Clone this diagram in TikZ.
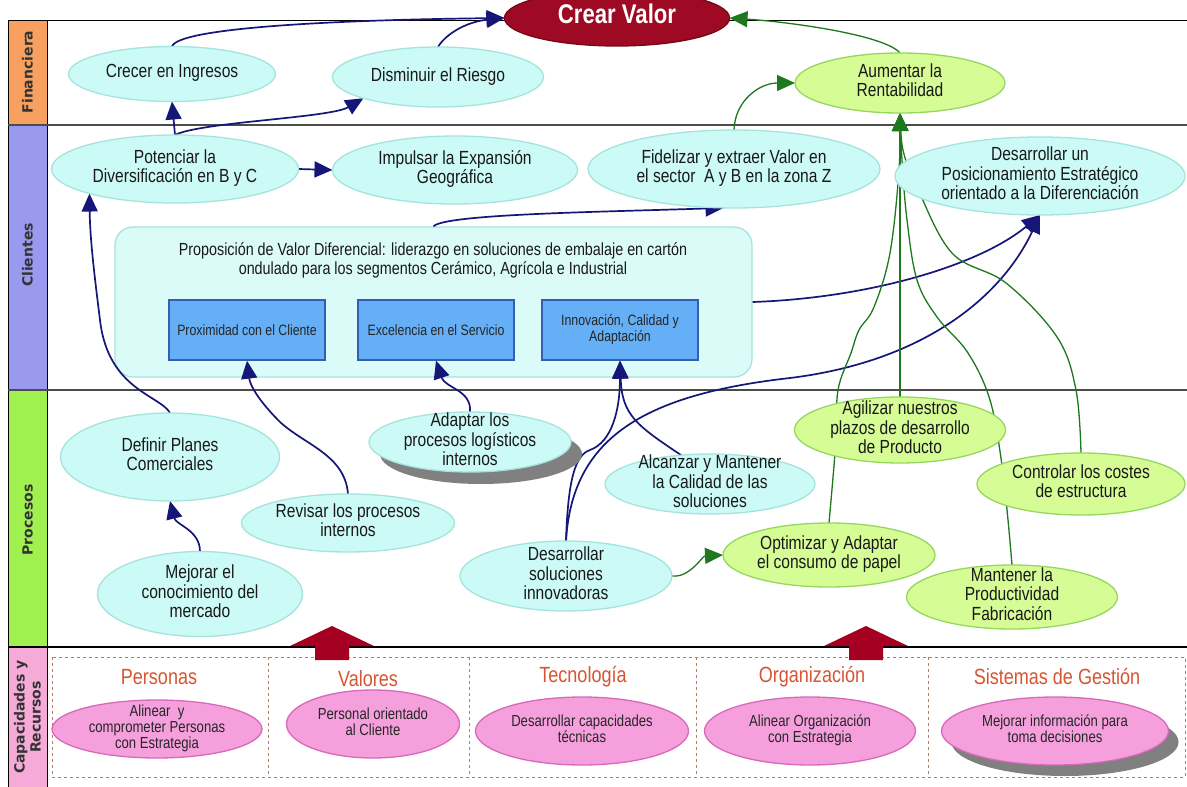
\documentclass[tikz,border=0pt]{standalone}
\usepackage{fontspec}
\setmainfont{Liberation Sans}[FakeStretch=0.82]
\newfontfamily\lblfont{DejaVu Sans}
\usetikzlibrary{shapes.geometric,arrows.meta}
\pgfdeclarelayer{back}
\pgfdeclarelayer{conn}
\pgfsetlayers{back,conn,main}
\definecolor{cyanf}{RGB}{204,250,246}
\definecolor{cyand}{RGB}{165,228,220}
\definecolor{greenf}{RGB}{214,252,150}
\definecolor{greend}{RGB}{150,215,95}
\definecolor{pinkf}{RGB}{245,160,220}
\definecolor{pinkd}{RGB}{215,105,185}
\definecolor{rectf}{RGB}{100,175,245}
\definecolor{rectd}{RGB}{50,95,180}
\definecolor{navyc}{RGB}{22,22,120}
\definecolor{greenc}{RGB}{30,120,30}
\definecolor{crearf}{RGB}{158,10,35}
\definecolor{titlec}{RGB}{215,85,50}
\definecolor{finc}{RGB}{247,160,95}
\definecolor{clic}{RGB}{153,153,240}
\definecolor{proc}{RGB}{160,240,80}
\definecolor{capc}{RGB}{245,170,215}
\definecolor{arrowred}{RGB}{165,0,33}
\definecolor{dashc}{RGB}{190,120,100}
\definecolor{shadowc}{RGB}{128,128,128}
\newcommand\ctxt[1]{\hbox to 0pt{\hss\vbox to 0pt{\vss\hbox{\begin{tabular}{@{}c@{}}#1\end{tabular}}\vss}\hss}}
\begin{document}
\begin{tikzpicture}[x=1pt,y=-1pt,
  wh/.style 2 args={minimum width=#1,minimum height=#2},
  el/.style={ellipse,inner sep=0pt,outer sep=0pt,line width=1.3pt},
  cy/.style={el,fill=cyanf,draw=cyand,text=black!90,font=\fontsize{19}{19}\selectfont},
  gr/.style={el,fill=greenf,draw=greend,text=black!90,font=\fontsize{19}{19}\selectfont},
  pk/.style={el,fill=pinkf,draw=pinkd,text=black!85,font=\fontsize{16}{15.5}\selectfont},
  sh/.style={el,fill=shadowc,draw=none},
  rbox/.style={rectangle,fill=rectf,draw=rectd,line width=1.3pt,inner sep=0pt,minimum width=156,minimum height=60,align=center,text=black!85,font=\fontsize{15}{16}\selectfont},
  ttl/.style={inner sep=0pt,text=titlec,font=\fontsize{22}{22}\selectfont},
  lbl/.style={inner sep=0pt,rotate=90,align=center,text=black!80,font=\lblfont\bfseries\fontsize{14}{16}\selectfont},
  barrow/.style={draw=navyc,line width=1.7pt,-{Triangle[length=18pt,width=16pt]}},
  garrow/.style={draw=greenc,line width=1.3pt,-{Triangle[length=18pt,width=16pt]}}
]
\useasboundingbox (0,0) rectangle (1187,787);
\clip (0,0) rectangle (1187,787);
\begin{pgfonlayer}{back}
  \fill[white] (0,0) rectangle (1187,787);
  \fill[finc] (8,20) rectangle (47,125);
  \fill[clic] (8,125) rectangle (47,390);
  \fill[proc] (8,390) rectangle (47,647);
  \fill[capc] (8,647) rectangle (47,787);
  \draw[black,line width=1pt] (8,20) -- (1187,20);
  \draw[black,line width=1pt] (8,20) -- (8,787);
  \draw[black,line width=1pt] (47,20) -- (47,787);
  \draw[black!70,line width=1.3pt] (8,125) -- (1187,125);
  \draw[black!70,line width=1.3pt] (8,390) -- (1187,390);
  \draw[black,line width=2.6pt] (8,647) -- (1187,647);
  \draw[dashc,dashed,line width=0.8pt] (52,657) rectangle (1185,777);
  \foreach \xx in {268,469,696,928} \draw[dashc,dashed,line width=0.8pt] (\xx,657) -- (\xx,777);
  \node[draw=cyand,fill=cyanf!70!white,rounded corners=18pt,line width=1.3pt,inner sep=0pt,minimum width=637,minimum height=150] (prop) at (433.5,302) {};
  \node[inner sep=0pt,align=center,text=black!90,font=\fontsize{17.5}{19}\selectfont] (proptext) at (433,260) {Proposición de Valor Diferencial: liderazgo en soluciones de embalaje en cartón\\ondulado para los segmentos Cerámico, Agrícola e Industrial};
\end{pgfonlayer}

% lane labels
\node[lbl] (lfin) at (27.5,72) {Financiera};
\node[lbl] (lcli) at (27.5,255) {Clientes};
\node[lbl] (lpro) at (27.5,520) {Procesos};
\node[lbl] (lcap) at (27.5,717) {Capacidades y\\Recursos};

% big red arrows
\fill[arrowred] (290,646) -- (332,626) -- (374,646) -- (349,646) -- (349,660) -- (315,660) -- (315,646) -- cycle;
\fill[arrowred] (824,646) -- (866,626) -- (908,646) -- (883,646) -- (883,660) -- (849,660) -- (849,646) -- cycle;

% Financiera
\node[el,fill=crearf,draw=crearf!75!black,wh={225}{56},text=white,font=\bfseries\fontsize{27}{27}\selectfont] (crear) at (617,18) {\ctxt{Crear Valor}};
\node[cy,wh={207}{55}] (crecer) at (172,74) {\ctxt{Crecer en Ingresos}};
\node[cy,wh={211}{60}] (dismin) at (438,77) {\ctxt{Disminuir el Riesgo}};
\node[gr,wh={210}{60}] (aument) at (900,83) {\ctxt{Aumentar la\\Rentabilidad}};

% Clientes
\node[cy,wh={247}{68}] (potenc) at (175,169) {\ctxt{Potenciar la\\Diversificación en B y C}};
\node[cy,wh={245}{68}] (impuls) at (455,170) {\ctxt{Impulsar la Expansión\\Geográfica}};
\node[cy,wh={292}{78}] (fidel) at (734,169) {\ctxt{Fidelizar y extraer Valor en\\el sector~ A y B en la zona Z}};
\node[cy,wh={290}{78}] (posic) at (1040,176) {\ctxt{Desarrollar un\\Posicionamiento Estratégico\\orientado a la Diferenciación}};
\node[rbox] (proxim) at (247,330) {Proximidad con el Cliente};
\node[rbox] (excel) at (436,330) {Excelencia en el Servicio};
\node[rbox] (innov) at (620,330) {Innovación, Calidad y\\Adaptación};

% Procesos
\node[cy,wh={219}{88}] (definir) at (170,457) {\ctxt{Definir Planes\\Comerciales}};
\node[cy,wh={213}{58}] (revisar) at (348,523) {\ctxt{Revisar los procesos\\internos}};
\node[cy,wh={205}{85}] (mejorar) at (200,594) {\ctxt{Mejorar el\\conocimiento del\\mercado}};
\node[sh,wh={202}{60}] (adaptsh) at (481,454) {};
\node[cy,wh={202}{60}] (adaptar) at (470,442) {\ctxt{Adaptar los\\procesos logísticos\\internos}};
\node[cy,wh={210}{60}] (alcanz) at (710,484) {\ctxt{Alcanzar y Mantener\\la Calidad de las\\soluciones}};
\node[cy,wh={212}{70}] (desar) at (566,576) {\ctxt{Desarrollar\\soluciones\\innovadoras}};
\node[gr,wh={211}{66}] (agiliz) at (900,430) {\ctxt{Agilizar nuestros\\plazos de desarrollo\\de Producto}};
\node[gr,wh={208}{62}] (control) at (1081,484) {\ctxt{Controlar los costes\\de estructura}};
\node[gr,wh={212}{64}] (optim) at (829,555) {\ctxt{Optimizar y Adaptar\\el consumo de papel}};
\node[gr,wh={211}{64}] (manten) at (1012,597) {\ctxt{Mantener la\\Productividad\\Fabricación}};

% Capacidades y Recursos
\node[ttl] (tper) at (159,677) {Personas};
\node[ttl] (tval) at (368,679) {Valores};
\node[ttl] (ttec) at (583,677) {Tecnología};
\node[ttl] (torg) at (812,677) {Organización};
\node[ttl] (tsis) at (1057,677) {Sistemas de Gestión};
\node[pk,wh={210}{58}] (pers) at (157,729) {\ctxt{Alinear~ y\\comprometer Personas\\con Estrategia}};
\node[pk,wh={173}{68}] (valo) at (373,724) {\ctxt{Personal orientado\\al Cliente}};
\node[pk,wh={213}{68}] (tecn) at (582,731) {\ctxt{Desarrollar capacidades\\técnicas}};
\node[pk,wh={211}{68}] (orga) at (810,731) {\ctxt{Alinear Organización\\con Estrategia}};
\node[sh,wh={227}{68}] (sistsh) at (1065,742) {};
\node[pk,wh={227}{68}] (sist) at (1055,731) {\ctxt{Mejorar información para\\toma decisiones}};

% connectors
\begin{pgfonlayer}{conn}
  \draw[barrow] (crecer.north) .. controls (178,28) and (330,20) .. (crear.west);
  \draw[barrow] (dismin.north) .. controls (445,35) and (465,22) .. (crear.west);
  \draw[barrow] (potenc.north) -- (crecer.south);
  \draw[barrow] (potenc.north) .. controls (200,122) and (330,118) .. (dismin.south west);
  \draw[barrow] (potenc.east) -- (impuls.west);
  \draw[barrow] (prop.north) .. controls (445,214) and (600,212) .. (fidel.255);
  \draw[barrow] (prop.east) .. controls (870,298) and (980,265) .. (posic.south);
  \draw[barrow] (desar.north) .. controls (572,440) and (640,395) .. (790,378) .. controls (920,362) and (1000,300) .. (posic.south);
  \draw[barrow] (desar.north) .. controls (568,480) and (575,455) .. (590,450) .. controls (612,442) and (620,410) .. (innov.south);
  \draw[barrow] (alcanz.135) .. controls (636,425) and (622,415) .. (innov.south);
  \draw[barrow] (mejorar.north) .. controls (200,530) and (176,525) .. (definir.south);
  \draw[barrow] (definir.north) .. controls (160,395) and (108,390) .. (100,320) .. controls (95,280) and (90,240) .. (potenc.196);
  \draw[barrow] (revisar.north) .. controls (345,455) and (305,445) .. (280,422) .. controls (258,400) and (250,385) .. (proxim.south);
  \draw[barrow] (adaptar.north) .. controls (472,390) and (445,388) .. (excel.south);
  \draw[garrow] (aument.north) .. controls (885,35) and (790,22) .. (crear.east);
  \draw[garrow] (fidel.north) .. controls (735,100) and (760,83) .. (aument.west);
  \draw[garrow,line width=2.6pt] (agiliz.north) -- (aument.south);
  \draw[garrow] plot[smooth,tension=0.6] coordinates {(optim.north) (836,440) (838,390) (851,353) (859,330) (874,307) (890,253) (899,170) (aument.south)};
  \draw[garrow] plot[smooth,tension=0.6] coordinates {(manten.north) (1008,520) (1002,465) (990,400) (968,353) (937,317) (917,280) (907,220) (902,160) (aument.south)};
  \draw[garrow] plot[smooth,tension=0.6] coordinates {(control.north) (1076,390) (1057,337) (1006,283) (952,253) (917,187) (903,150) (aument.south)};
  \draw[garrow] (desar.east) .. controls (690,578) and (702,556) .. (optim.west);
\end{pgfonlayer}
\end{tikzpicture}
\end{document}
